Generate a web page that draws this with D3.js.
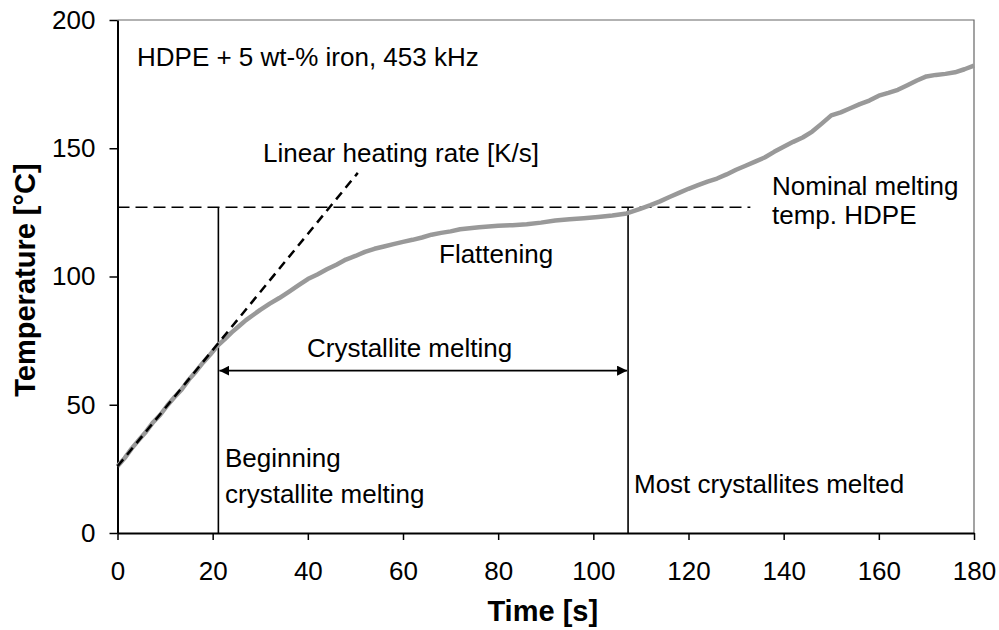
<!DOCTYPE html>
<html>
<head>
<meta charset="utf-8">
<script src="https://cdn.jsdelivr.net/npm/d3@7"></script>
<style>
  html, body { margin: 0; padding: 0; background: #fff; }
  svg { display: block; font-family: "Liberation Sans", Arial, sans-serif; }
</style>
</head>
<body>
<svg id="chart" width="999" height="630"></svg>
<script>
// Measured temperature of HDPE + 5 wt-% iron during induction heating
const timeS = [0,1.5,3,4.5,6,7.5,9,10.5,12,13.5,15,16.5,18,19.5,21,22.5,24,25.5,27,28.5,30,32,34,36,38,40,42,44,46,48,50,52,54,56,58,60,62,64,66,68,70,72,74,76,78,80,83,86,89,92,95,98,101,104,107,110,112,114,116,118,120,122,124,126,128,130,132,134,136,138,140,142,144,146,148,150,152,154,156,158,160,162,164,166,168,170,172,174,176,178,180];
const tempC = [26,29.2,33,36.3,39.5,43.2,46.1,49.8,53,56,59.8,63,66.5,69.6,73,75.5,78.2,80.6,83,85,87,89.4,91.6,94,96.5,99,100.8,102.8,104.6,106.6,108,109.6,110.8,111.7,112.6,113.5,114.3,115.2,116.3,117,117.6,118.4,118.8,119.2,119.5,119.8,120,120.4,121,121.8,122.3,122.7,123.2,123.8,124.6,126.5,127.8,129.3,131,132.6,134.2,135.6,137,138.2,139.8,141.6,143.2,144.8,146.4,148.6,150.6,152.5,154.2,156.5,159.6,162.8,164,165.6,167.2,168.6,170.5,171.6,172.8,174.6,176.4,178,178.6,179,179.6,180.8,182.2];

// Linear heating-rate fit (start and end points)
const fitTime = [0, 50.5];
const fitTemp = [26, 140.4];

// Reference values
const meltTemp = 127;        // nominal melting temperature HDPE
const meltLineEnd = 133;     // end of the melting-temperature line [s]
const onsetTime = 21.2;      // beginning of crystallite melting [s]
const endTime = 107.3;       // most crystallites melted [s]
const spanTemp = 63.3;       // height of the melting-range arrow

const xTicks = [0,20,40,60,80,100,120,140,160,180];
const yTicks = [0,50,100,150,200];

const svg = d3.select("#chart");
const plotL = 117.5, plotR = 974, plotT = 20, plotB = 533;

const x = d3.scaleLinear().domain([0, 180]).range([plotL, plotR]);
const y = d3.scaleLinear().domain([0, 200]).range([plotB, plotT]);

// Frame (top and right edges)
svg.append("path")
  .attr("d", `M${plotL},${plotT}H${plotR}V${plotB}`)
  .attr("fill", "none").attr("stroke", "#666").attr("stroke-width", 1.2);

// Axes
const xAxis = svg.append("g").attr("transform", `translate(0,${plotB})`)
  .call(d3.axisBottom(x).tickValues(xTicks).tickSize(7).tickPadding(22).tickSizeOuter(0));
const yAxis = svg.append("g").attr("transform", `translate(${plotL},0)`)
  .call(d3.axisLeft(y).tickValues(yTicks).tickSize(8).tickPadding(14).tickSizeOuter(0));
[xAxis, yAxis].forEach(g => {
  g.select(".domain").attr("stroke", "#000").attr("stroke-width", 2);
  g.selectAll(".tick line").attr("stroke", "#000").attr("stroke-width", 1.5);
  g.selectAll(".tick text").attr("fill", "#000")
    .style("font-family", '"Liberation Sans", Arial, sans-serif').style("font-size", "26px");
});

// Axis titles
svg.append("text")
  .attr("x", (plotL + plotR) / 2 - 3).attr("y", 621)
  .attr("text-anchor", "middle").attr("font-weight", "bold").attr("font-size", 29)
  .text("Time [s]");
svg.append("text")
  .attr("transform", `translate(35,280) rotate(-90)`)
  .attr("text-anchor", "middle").attr("font-weight", "bold").attr("font-size", 29)
  .text("Temperature [°C]");

// Nominal melting temperature line
svg.append("line")
  .attr("x1", x(0)).attr("x2", x(meltLineEnd)).attr("y1", y(meltTemp)).attr("y2", y(meltTemp))
  .attr("stroke", "#000").attr("stroke-width", 1.5).attr("stroke-dasharray", "12,6");

// Vertical markers
[onsetTime, endTime].forEach(t => {
  svg.append("line")
    .attr("x1", x(t)).attr("x2", x(t)).attr("y1", y(0)).attr("y2", y(meltTemp))
    .attr("stroke", "#000").attr("stroke-width", 1.6);
});

// Double-headed arrow for the melting range
const defs = svg.append("defs");
defs.append("marker").attr("id", "arrowHead")
  .attr("viewBox", "0 0 10 10").attr("refX", 10).attr("refY", 5)
  .attr("markerWidth", 10).attr("markerHeight", 10).attr("markerUnits", "userSpaceOnUse")
  .attr("orient", "auto-start-reverse")
  .append("path").attr("d", "M0,0L10,5L0,10Z").attr("fill", "#000");
svg.append("line")
  .attr("x1", x(onsetTime) + 1).attr("x2", x(endTime) - 1)
  .attr("y1", y(spanTemp)).attr("y2", y(spanTemp))
  .attr("stroke", "#000").attr("stroke-width", 1.6)
  .attr("marker-start", "url(#arrowHead)").attr("marker-end", "url(#arrowHead)");

// Measured curve
const line = d3.line().x(d => x(d[0])).y(d => y(d[1]));
svg.append("path")
  .datum(timeS.map((t, i) => [t, tempC[i]]))
  .attr("d", line)
  .attr("fill", "none").attr("stroke", "#999").attr("stroke-width", 4.5)
  .attr("stroke-linejoin", "round");

// Linear heating-rate fit
svg.append("path")
  .datum(fitTime.map((t, i) => [t, fitTemp[i]]))
  .attr("d", line)
  .attr("fill", "none").attr("stroke", "#000").attr("stroke-width", 2.5)
  .attr("stroke-dasharray", "9,6");

// Annotations
const notes = [
  { text: "HDPE + 5 wt-% iron, 453 kHz", x: 137, y: 66 },
  { text: "Linear heating rate [K/s]", x: 263, y: 162 },
  { text: "Nominal melting", x: 772, y: 195 },
  { text: "temp. HDPE", x: 772, y: 224 },
  { text: "Flattening", x: 439, y: 263 },
  { text: "Crystallite melting", x: 307, y: 357 },
  { text: "Beginning", x: 225, y: 467 },
  { text: "crystallite melting", x: 225, y: 503 },
  { text: "Most crystallites melted", x: 634, y: 493 }
];
svg.selectAll("text.note").data(notes).enter().append("text")
  .attr("class", "note")
  .attr("x", d => d.x).attr("y", d => d.y)
  .attr("font-size", 26).attr("fill", "#000")
  .text(d => d.text);
</script>
</body>
</html>
